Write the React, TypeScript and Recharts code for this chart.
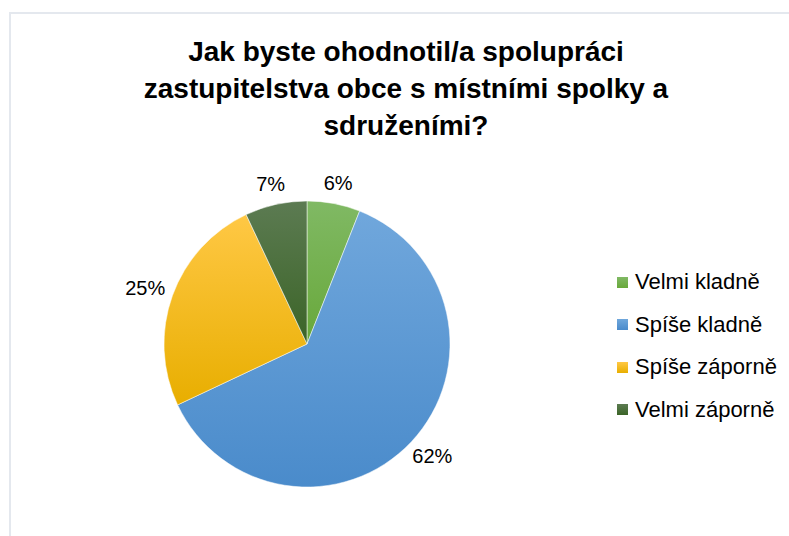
import React from 'react';
import { PieChart, Pie, Cell, Legend } from 'recharts';

// odpovědi a podíly (%)
const categories = ['Velmi kladně', 'Spíše kladně', 'Spíše záporně', 'Velmi záporně'];
const shares = [6, 62, 25, 7];

const colorsTop = ['#80b964', '#70a7dc', '#ffc845', '#5c7b52'];
const colorsBottom = ['#68a83a', '#4a8bcb', '#e8ae00', '#3b6427'];

const titleLines = [
  'Jak byste ohodnotil/a spolupráci',
  'zastupitelstva obce s místními spolky a',
  'sdruženími?',
];

const data = categories.map((name, i) => ({ name, value: shares[i] }));

const RADIAN = Math.PI / 180;
const font = "'Liberation Sans', Arial, sans-serif";

const renderLabel = (props: any) => {
  const { cx, cy, midAngle, outerRadius, value } = props;
  const r = outerRadius + 9;
  const cos = Math.cos(-midAngle * RADIAN);
  const sin = Math.sin(-midAngle * RADIAN);
  const w = String(value).length * 11 + 18;
  const x = cx + r * cos + cos * w / 2;
  const y = cy + r * sin + sin * 12;
  return (
    <text x={x} y={y} textAnchor="middle" dominantBaseline="central"
      style={{ fontFamily: font }} fontSize={20} fill="#000">
      {`${value}%`}
    </text>
  );
};

const renderLegend = () => (
  <div style={{ fontFamily: font, fontSize: 22, color: '#000' }}>
    {categories.map((c, i) => (
      <div key={c} style={{ height: 42.5, display: 'flex', alignItems: 'center', whiteSpace: 'nowrap' }}>
        <span style={{
          display: 'inline-block', width: 11, height: 11, marginRight: 7,
          background: `linear-gradient(${colorsTop[i]}, ${colorsBottom[i]})`,
        }} />
        {c}
      </div>
    ))}
  </div>
);

export default function App() {
  return (
    <div style={{ position: 'fixed', left: 0, top: 0, width: 789, height: 536, background: '#fff', overflow: 'hidden' }}>
      <div style={{
        position: 'absolute', left: 9, top: 12, width: 800, height: 540,
        borderTop: '2px solid #e4e8ee', borderLeft: '2px solid #e4e8ee',
      }} />
      <div style={{
        position: 'absolute', left: 106, top: 33, width: 600, textAlign: 'center',
        fontFamily: font, fontWeight: 'bold', fontSize: 28, lineHeight: '37px',
        whiteSpace: 'nowrap', color: '#000',
      }}>
        {titleLines.map((l) => <div key={l}>{l}</div>)}
      </div>
      <div style={{ position: 'absolute', left: 0, top: 0 }}>
        <PieChart width={789} height={536} margin={{ top: 0, right: 0, bottom: 0, left: 0 }}>
          <defs>
            {categories.map((c, i) => (
              <linearGradient key={c} id={`g${i}`} x1="0" y1="0" x2="0" y2="1">
                <stop offset="0%" stopColor={colorsTop[i]} />
                <stop offset="100%" stopColor={colorsBottom[i]} />
              </linearGradient>
            ))}
          </defs>
          <Pie
            data={data}
            dataKey="value"
            nameKey="name"
            cx={307}
            cy={344}
            outerRadius={143}
            startAngle={90}
            endAngle={-270}
            stroke="#ffffff"
            strokeWidth={0.5}
            label={renderLabel}
            labelLine={false}
            isAnimationActive={false}
          >
            {data.map((d, i) => (
              <Cell key={d.name} fill={`url(#g${i})`} />
            ))}
          </Pie>
          <Legend
            layout="vertical"
            content={renderLegend}
            wrapperStyle={{ left: 617, top: 261, width: 172 }}
          />
        </PieChart>
      </div>
    </div>
  );
}
